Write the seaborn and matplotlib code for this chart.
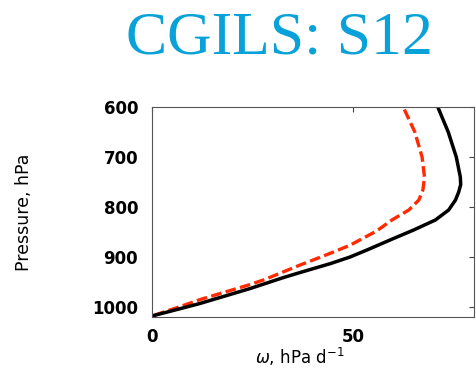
import matplotlib
matplotlib.use("Agg")
import matplotlib.pyplot as plt
import seaborn as sns
import pandas as pd

# Large-scale subsidence profiles (omega, hPa/day) against pressure (hPa)
p_solid = [600, 650, 700, 740, 755, 770, 786, 806, 826, 846, 863, 886, 900, 913,
           931, 941, 950, 963, 975, 993, 1000, 1018]
w_solid = [71.0, 73.6, 75.6, 76.6, 76.7, 76.2, 75.4, 73.7, 70.4, 65.0, 60.0, 53.4, 49.2, 44.4,
           36.8, 32.7, 29.3, 24.4, 19.4, 11.9, 8.6, 0.0]

p_dash = [605, 650, 700, 740, 766, 786, 806, 826, 848, 876, 890, 903, 916,
          945, 955, 985, 1000, 1018]
w_dash = [62.7, 65.3, 67.1, 67.7, 67.3, 66.3, 63.8, 59.6, 55.8, 49.3, 45.1, 41.0, 36.8,
          28.0, 24.4, 12.0, 6.7, 0.0]

x_ticks = [0, 50]
y_ticks = [600, 700, 800, 900, 1000]

solid = pd.DataFrame({"omega": w_solid, "pressure": p_solid})
dashed = pd.DataFrame({"omega": w_dash, "pressure": p_dash})

sns.set_style("white")
plt.rcParams["font.family"] = ["DejaVu Sans"]
plt.rcParams["text.color"] = "black"
plt.rcParams["axes.labelcolor"] = "black"
plt.rcParams["xtick.labelcolor"] = "black"
plt.rcParams["ytick.labelcolor"] = "black"

fig = plt.figure(figsize=(4.76, 3.69), dpi=100)
ax = fig.add_axes([0.3193, 0.1409, 0.6765, 0.5691])

sns.lineplot(data=dashed, x="omega", y="pressure", sort=False, ax=ax,
             color="#ff2a00", linewidth=2.4, linestyle=(0, (3.2, 1.3)))
sns.lineplot(data=solid, x="omega", y="pressure", sort=False, ax=ax,
             color="black", linewidth=2.5)

ax.set_xlim(0, 80)
ax.set_ylim(1020, 600)
ax.set_xticks(x_ticks)
ax.set_yticks(y_ticks)
ax.set_xticklabels([str(v) for v in x_ticks], fontsize=12, fontweight="bold", color="black")
ax.set_yticklabels([str(v) for v in y_ticks], fontsize=12, fontweight="bold", color="black")
ax.tick_params(axis="both", direction="in", length=3.6, width=0.8,
               color="#444444", top=True, right=True)
ax.tick_params(axis="y", pad=10)
ax.tick_params(axis="x", pad=8)

for s in ax.spines.values():
    s.set_visible(True)
    s.set_color("#555555")
    s.set_linewidth(0.8)

ax.set_xlabel(r"$\omega$, hPa d$^{-1}$", fontsize=12, color="black")
ax.set_ylabel("Pressure, hPa", fontsize=12.5, color="black")
ax.xaxis.set_label_coords(0.46, -0.138)
ax.yaxis.set_label_coords(-0.37, 0.5)

fig.text(279 / 476, 1 - 53 / 369, "CGILS: S12", family="Liberation Serif",
         fontsize=44.5, color="#08a2d8", ha="center", va="baseline")

fig.savefig("out.png", dpi=100, facecolor="white")
